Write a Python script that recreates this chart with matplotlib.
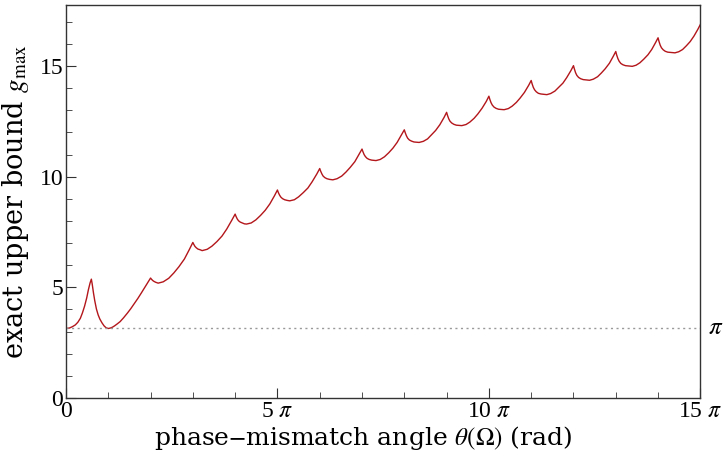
import matplotlib
matplotlib.use("Agg")
import matplotlib.pyplot as plt
import numpy as np

# curve: theta in units of pi, g_max values
theta_pi = [
    0.00, 0.08, 0.15, 0.22, 0.28, 0.34, 0.39, 0.44, 0.49, 0.53, 0.57, 0.60,
    0.62, 0.65, 0.68, 0.72, 0.76, 0.80, 0.85, 0.90, 0.95, 1.00,
    1.05, 1.10, 1.15, 1.20, 1.28, 1.36, 1.45, 1.53, 1.61, 1.70, 1.78, 1.86, 1.93, 2.00,
    2.02, 2.05, 2.08, 2.12, 2.18, 2.30, 2.43, 2.55, 2.67, 2.80, 2.92, 3.00,
    3.02, 3.05, 3.08, 3.12, 3.17, 3.22, 3.34, 3.45, 3.57, 3.69, 3.80, 3.92, 4.00,
    4.02, 4.05, 4.08, 4.12, 4.17, 4.22, 4.27, 4.38, 4.49, 4.60, 4.71, 4.82, 4.93, 5.00,
    5.02, 5.05, 5.08, 5.12, 5.17, 5.23, 5.29, 5.40, 5.50, 5.61, 5.72, 5.82, 5.93, 6.00,
    6.02, 6.05, 6.08, 6.12, 6.17, 6.23, 6.31, 6.41, 6.52, 6.62, 6.72, 6.83, 6.93, 7.00,
    7.02, 7.05, 7.08, 7.12, 7.17, 7.23, 7.28, 7.33, 7.43, 7.53, 7.63, 7.73, 7.83, 7.93, 8.00,
    8.02, 8.05, 8.08, 8.12, 8.17, 8.23, 8.30, 8.35, 8.45, 8.55, 8.64, 8.74, 8.84, 8.94, 9.00,
    9.02, 9.05, 9.08, 9.12, 9.17, 9.23, 9.31, 9.36, 9.46, 9.55, 9.65, 9.74, 9.84, 9.94, 10.00,
    10.02, 10.05, 10.08, 10.12, 10.17, 10.23, 10.31, 10.36, 10.46, 10.55, 10.65, 10.74, 10.84, 10.94, 11.00,
    11.02, 11.05, 11.08, 11.12, 11.17, 11.23, 11.32, 11.37, 11.46, 11.56, 11.65, 11.75, 11.84, 11.94, 12.00,
    12.02, 12.05, 12.08, 12.12, 12.17, 12.23, 12.33, 12.38, 12.47, 12.57, 12.66, 12.75, 12.85, 12.94, 13.00,
    13.02, 13.05, 13.08, 13.12, 13.17, 13.23, 13.34, 13.39, 13.48, 13.57, 13.66, 13.76, 13.85, 13.94, 14.00,
    14.02, 14.05, 14.08, 14.12, 14.17, 14.23, 14.35, 14.40, 14.49, 14.58, 14.67, 14.76, 14.85, 14.94, 15.00,
]
g_max = [
    3.14, 3.16, 3.22, 3.30, 3.42, 3.60, 3.85, 4.15, 4.52, 4.89, 5.20, 5.37,
    5.15, 4.75, 4.40, 4.02, 3.76, 3.57, 3.40, 3.26, 3.17, 3.14,
    3.16, 3.20, 3.26, 3.33, 3.45, 3.62, 3.83, 4.03, 4.25, 4.50, 4.74, 4.99, 5.20, 5.42,
    5.37, 5.31, 5.27, 5.23, 5.19, 5.25, 5.41, 5.65, 5.93, 6.28, 6.72, 7.03,
    6.95, 6.85, 6.79, 6.73, 6.70, 6.66, 6.72, 6.86, 7.07, 7.32, 7.63, 8.03, 8.31,
    8.21, 8.09, 8.01, 7.95, 7.91, 7.87, 7.86, 7.91, 8.05, 8.25, 8.48, 8.77, 9.14, 9.40,
    9.29, 9.17, 9.08, 9.01, 8.96, 8.93, 8.91, 8.96, 9.09, 9.28, 9.49, 9.77, 10.12, 10.37,
    10.26, 10.13, 10.03, 9.96, 9.91, 9.88, 9.86, 9.91, 10.03, 10.21, 10.42, 10.68, 11.01, 11.25,
    11.14, 11.00, 10.91, 10.83, 10.78, 10.75, 10.74, 10.73, 10.78, 10.90, 11.08, 11.29, 11.55, 11.88, 12.12,
    12.00, 11.85, 11.74, 11.66, 11.61, 11.57, 11.56, 11.55, 11.60, 11.71, 11.89, 12.09, 12.35, 12.68, 12.91,
    12.78, 12.62, 12.51, 12.43, 12.37, 12.33, 12.32, 12.31, 12.36, 12.47, 12.64, 12.84, 13.10, 13.41, 13.64,
    13.51, 13.35, 13.24, 13.15, 13.09, 13.05, 13.04, 13.03, 13.08, 13.19, 13.36, 13.56, 13.81, 14.13, 14.35,
    14.21, 14.04, 13.93, 13.84, 13.77, 13.74, 13.72, 13.71, 13.76, 13.87, 14.04, 14.23, 14.48, 14.80, 15.02,
    14.88, 14.70, 14.58, 14.49, 14.43, 14.39, 14.37, 14.36, 14.41, 14.52, 14.69, 14.88, 15.13, 15.44, 15.66,
    15.51, 15.34, 15.22, 15.12, 15.06, 15.02, 15.00, 14.99, 15.04, 15.15, 15.31, 15.51, 15.75, 16.06, 16.28,
    16.13, 15.95, 15.83, 15.74, 15.67, 15.63, 15.61, 15.60, 15.65, 15.75, 15.92, 16.11, 16.36, 16.66, 16.88,
]
xtick_pi = [0, 5, 10, 15]
xtick_labels = ["0", r"5 $\pi$", r"10 $\pi$", r"15 $\pi$"]
ytick_vals = [0, 5, 10, 15]

plt.rcParams["font.family"] = ["Liberation Serif", "DejaVu Serif"]
plt.rcParams["mathtext.fontset"] = "stix"

fig = plt.figure(figsize=(7.25, 4.59), dpi=100)
ax = fig.add_axes([0.091, 0.133, 0.875, 0.856])

x = np.array(theta_pi) * np.pi
ax.plot(x, g_max, color="#b3161b", lw=1.0)
ax.axhline(np.pi, color="#999999", lw=1.0, ls=(0, (1.5, 2.5)))

ax.set_xlim(0, 15 * np.pi)
ax.set_ylim(0, 17.76)

ax.set_xticks(np.array(xtick_pi) * np.pi)
ax.set_xticklabels(xtick_labels)
ax.set_xticks(np.arange(0, 16) * np.pi, minor=True)
ax.set_yticks(ytick_vals)
ax.set_yticks(np.arange(0, 18), minor=True)

ax.tick_params(which="both", direction="in", labelsize=17, color="#333333",
               top=False, right=False, pad=2)
ax.tick_params(which="major", length=7, width=0.8)
ax.tick_params(which="minor", length=4, width=0.6)
for s in ax.spines.values():
    s.set_color("#333333")
    s.set_linewidth(1.0)

ax.set_xlabel(r"phase$-$mismatch angle $\theta(\Omega)$ (rad)",
              fontdict=dict(family="DejaVu Serif", size=18), labelpad=2)
# Mathematica centres the label on the whole image, not the frame
ax.xaxis.set_label_coords(0.468, -0.067, transform=ax.transAxes)
ax.xaxis.label.set_va("top")
ax.set_ylabel(r"exact upper bound $g_{\mathrm{max}}$",
              fontdict=dict(family="DejaVu Serif", size=19.5), labelpad=6)

ax.text(1.012, np.pi, r"$\pi$", transform=ax.get_yaxis_transform(),
        fontsize=18, va="center", ha="left")

fig.savefig("out.png", dpi=100)
